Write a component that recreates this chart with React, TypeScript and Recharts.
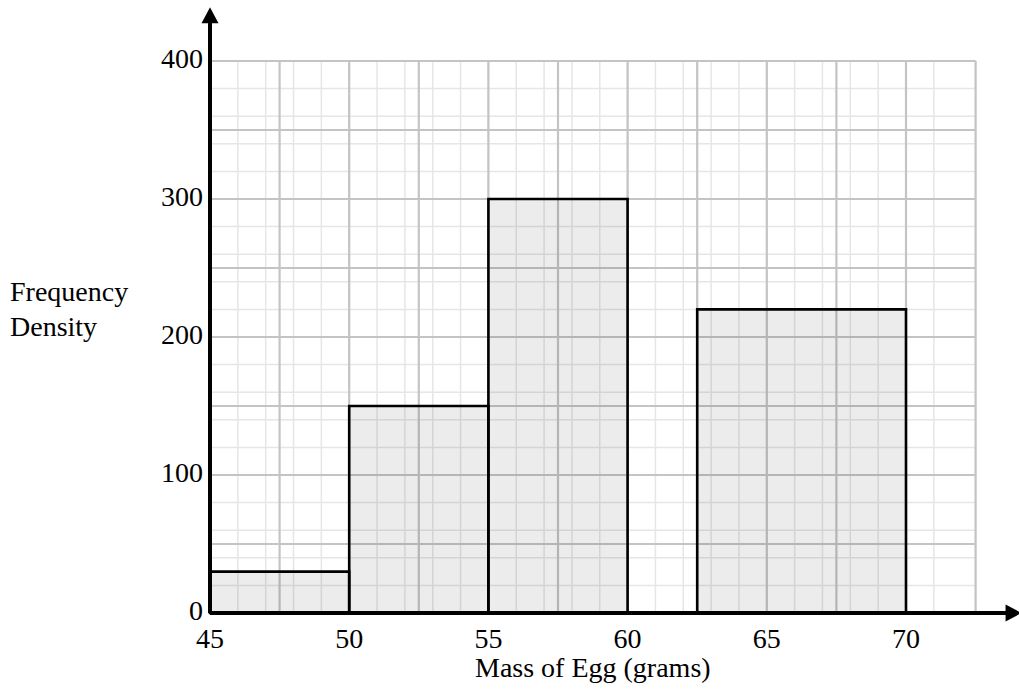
import React from "react";
import {
  ComposedChart,
  XAxis,
  YAxis,
  CartesianGrid,
  ReferenceArea,
  ReferenceLine,
} from "recharts";

// histogram bins: mass of egg (grams) -> frequency density
const BIN_START = [45, 50, 55, 62.5];
const BIN_END = [50, 55, 60, 70];
const DENSITY = [30, 150, 300, 220];

const X_TICKS = [45, 50, 55, 60, 65, 70];
const Y_TICKS = [0, 100, 200, 300, 400];

const X_MIN = 45;
const X_MAX = 72.5;
const Y_MIN = 0;
const Y_MAX = 400;

// graph paper lines
function steps(from: number, to: number, step: number) {
  const out: number[] = [];
  for (let v = from; v <= to + 1e-9; v += step) out.push(Math.round(v * 100) / 100);
  return out;
}
const X_MINOR = steps(X_MIN, X_MAX, 0.5);
const X_MAJOR = steps(X_MIN, X_MAX, 2.5);
const Y_MINOR = steps(Y_MIN, Y_MAX, 10);
const Y_MAJOR = steps(Y_MIN, Y_MAX, 50);

const FONT = "'Liberation Serif', 'Times New Roman', serif";
const FONT_SIZE = 28;

const bins = BIN_START.map((start, i) => ({
  start,
  end: BIN_END[i],
  density: DENSITY[i],
}));

function ArrowLine(props: any) {
  const { x1, y1, x2, y2 } = props;
  const dx = x2 - x1;
  const dy = y2 - y1;
  const len = Math.sqrt(dx * dx + dy * dy) || 1;
  const ux = dx / len;
  const uy = dy / len;
  const head = 16;
  const half = 8.5;
  const bx = x2 - ux * head;
  const by = y2 - uy * head;
  const pts = [
    `${x2},${y2}`,
    `${bx - uy * half},${by + ux * half}`,
    `${bx + uy * half},${by - ux * half}`,
  ].join(" ");
  return (
    <g>
      <line x1={x1} y1={y1} x2={bx + ux * 2} y2={by + uy * 2} stroke="#000" strokeWidth={4} />
      <polygon points={pts} fill="#000" />
    </g>
  );
}

export default function App() {
  return (
    <div style={{ position: "absolute", left: 0, top: 0, background: "#fff" }}>
      <ComposedChart
        width={1019}
        height={690}
        data={bins}
        margin={{ top: 61, right: 43.4, bottom: 47, left: 0 }}
      >
        <CartesianGrid
          verticalValues={X_MINOR}
          horizontalValues={Y_MINOR}
          stroke="#e6e6e6"
          strokeWidth={1.5}
        />
        <CartesianGrid
          verticalValues={X_MAJOR}
          horizontalValues={Y_MAJOR}
          stroke="#c4c4c4"
          strokeWidth={2.2}
        />
        <XAxis
          dataKey="start"
          type="number"
          domain={[X_MIN, X_MAX]}
          ticks={X_TICKS}
          allowDataOverflow
          axisLine={false}
          tickLine={false}
          tickSize={0}
          tickMargin={15}
          height={30}
          tick={{ fill: "#000", fontSize: FONT_SIZE, fontFamily: FONT }}
          label={{
            value: "Mass of Egg (grams)",
            position: "bottom",
            offset: 14,
            fill: "#000",
            fontSize: FONT_SIZE,
            fontFamily: FONT,
          }}
        />
        <YAxis
          dataKey="density"
          type="number"
          domain={[Y_MIN, Y_MAX]}
          ticks={Y_TICKS}
          allowDataOverflow
          axisLine={false}
          tickLine={false}
          tickSize={0}
          tickMargin={7}
          width={210}
          tick={{ fill: "#000", fontSize: FONT_SIZE, fontFamily: FONT, dy: -3 }}
          label={{
            content: () => (
              <text fill="#000" fontSize={FONT_SIZE} fontFamily={FONT}>
                <tspan x={10} y={301}>Frequency</tspan>
                <tspan x={10} y={336}>Density</tspan>
              </text>
            ),
          }}
        />
        {bins.map((b) => (
          <ReferenceArea
            key={b.start}
            x1={b.start}
            x2={b.end}
            y1={0}
            y2={b.density}
            fill="#000"
            fillOpacity={0.075}
            stroke="#000"
            strokeWidth={2.6}
            strokeOpacity={1}
          />
        ))}
        <ReferenceLine
          segment={[
            { x: X_MIN, y: 0 },
            { x: X_MIN, y: 439 },
          ]}
          ifOverflow="visible"
          shape={ArrowLine}
        />
        <ReferenceLine
          segment={[
            { x: X_MIN, y: 0 },
            { x: 74.15, y: 0 },
          ]}
          ifOverflow="visible"
          shape={ArrowLine}
        />
      </ComposedChart>
    </div>
  );
}
